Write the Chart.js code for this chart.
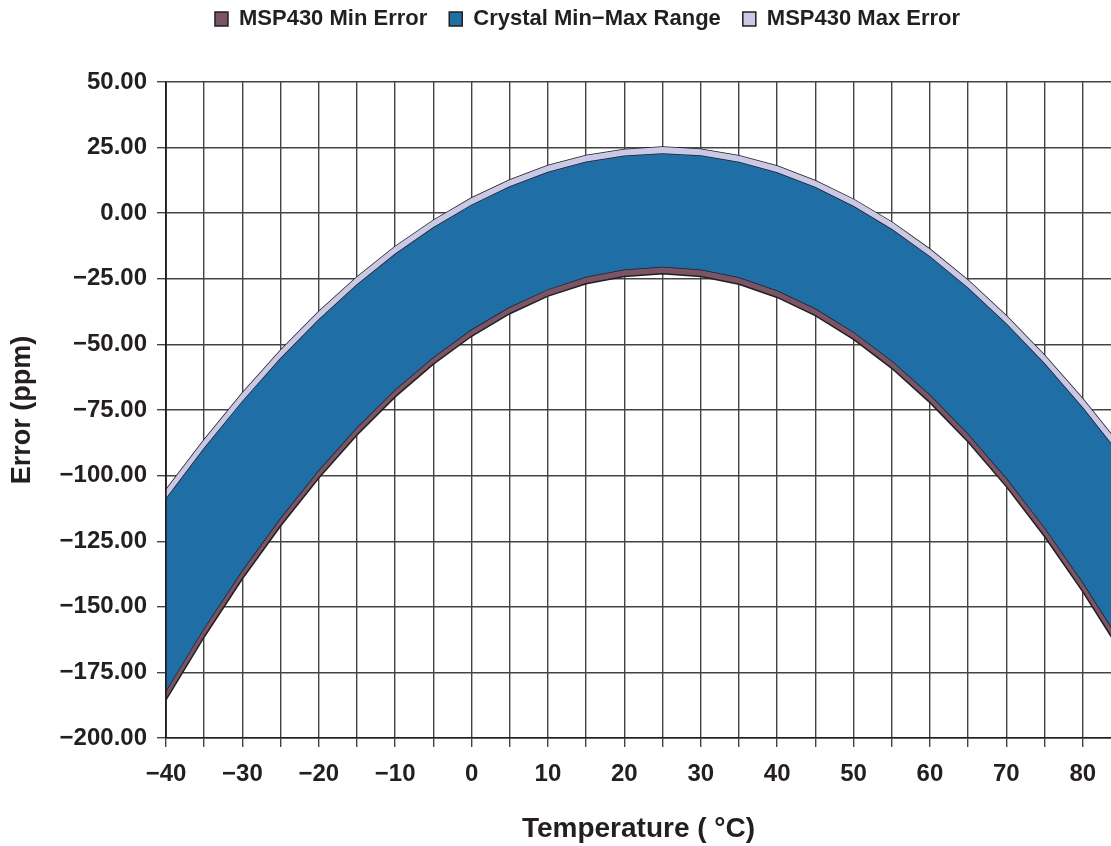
<!DOCTYPE html>
<html>
<head>
<meta charset="utf-8">
<script src="https://cdn.jsdelivr.net/npm/chart.js@4.4.1/dist/chart.umd.min.js"></script>
<style>
  body { margin: 0; background: #fff; }
  canvas { display: block; }
</style>
</head>
<body>
<canvas id="errChart" width="1111" height="846"></canvas>
<script>
const temps = [-40, -35, -30, -25, -20, -15, -10, -5, 0, 5, 10, 15, 20, 25, 30, 35, 40, 45, 50, 55, 60, 65, 70, 75, 80, 85];
const minErr = [-185.5, -161.5, -139.3, -119.2, -100.9, -84.5, -70, -57.5, -46.9, -38.3, -31.6, -26.9, -24.1, -23.1, -24.1, -27.1, -32.1, -39, -48.1, -59.1, -72.2, -87.2, -104.2, -123.2, -144.2, -167.2];
const crystalMin = [-182.5, -158.6, -136.5, -116.5, -98.3, -82, -67.6, -55.2, -44.6, -36, -29.3, -24.5, -21.7, -20.7, -21.7, -24.7, -29.7, -36.6, -45.6, -56.5, -69.5, -84.4, -101.3, -120.2, -141.1, -164];
const crystalMax = [-109, -89.8, -71.9, -55.5, -40.7, -27.4, -15.7, -5.6, 3, 10, 15.5, 19.4, 21.7, 22.6, 21.8, 19.3, 15.3, 9.7, 2.5, -6.3, -16.7, -28.7, -42.3, -57.5, -74.3, -92.7];
const maxErr = [-105.4, -86.3, -68.5, -52.2, -37.5, -24.3, -12.7, -2.7, 5.8, 12.7, 18.2, 22, 24.3, 25.2, 24.4, 21.9, 18, 12.4, 5.3, -3.4, -13.7, -25.6, -39.1, -54.1, -70.7, -88.9];
const seriesNames = ['MSP430 Min Error', 'Crystal Min\u2212Max Range', 'MSP430 Max Error'];

const ink = '#231f20';
const font = 'Liberation Sans';
const minus = s => String(s).replace('-', '\u2212');
const pts = arr => temps.map((t, i) => ({ x: t, y: arr[i] }));

// legend sits in a fixed 82px band, nudged to where the original puts it
const legendSpot = {
  id: 'legendSpot',
  beforeInit(chart) {
    const fit = chart.legend.fit;
    chart.legend.fit = function () {
      fit.call(this);
      this.height = 82;
    };
  },
  afterLayout(chart) {
    const lg = chart.legend;
    lg.top = -14;
    lg.bottom = 68;
    lg.left = 32;
    lg.right = chart.width + 32;
  }
};

// left axis line shows on top of the filled band
const leftAxis = {
  id: 'leftAxis',
  afterDatasetsDraw(chart) {
    const { ctx, chartArea } = chart;
    ctx.save();
    ctx.strokeStyle = ink;
    ctx.lineWidth = 1.5;
    ctx.beginPath();
    ctx.moveTo(chartArea.left, chartArea.top);
    ctx.lineTo(chartArea.left, chartArea.bottom);
    ctx.stroke();
    ctx.restore();
  }
};

const line = { borderColor: ink, borderWidth: 1.5, pointRadius: 0, tension: 0 };

new Chart(document.getElementById('errChart'), {
  type: 'line',
  data: {
    datasets: [
      { ...line, label: seriesNames[0], data: pts(minErr), fill: 1, backgroundColor: '#7b5468' },
      { ...line, label: seriesNames[1], data: pts(crystalMin), fill: 2, backgroundColor: '#206ea6' },
      { ...line, label: seriesNames[2], data: pts(crystalMax), fill: 3, backgroundColor: '#c9c8e6' },
      { ...line, label: '', data: pts(maxErr), fill: false, backgroundColor: '#c9c8e6' }
    ]
  },
  options: {
    responsive: false,
    animation: false,
    layout: { padding: 0 },
    plugins: {
      tooltip: { enabled: false },
      legend: {
        position: 'top',
        labels: {
          filter: item => item.datasetIndex < 3,
          boxWidth: 13,
          boxHeight: 14,
          padding: 22,
          color: ink,
          font: { family: font, size: 22, weight: 'bold' }
        }
      }
    },
    scales: {
      x: {
        type: 'linear',
        min: -40,
        max: 83.7,
        afterFit(s) { s.height = 108; },
        grid: { color: '#444', lineWidth: 1.4, tickLength: 9 },
        border: { color: ink, width: 1.5 },
        ticks: {
          stepSize: 5,
          includeBounds: false,
          autoSkip: false,
          maxRotation: 0,
          padding: 13,
          color: ink,
          font: { family: font, size: 24, weight: 'bold' },
          callback: v => (v % 10 === 0 ? minus(v) : '')
        },
        title: {
          display: true,
          text: 'Temperature ( \u00b0C)',
          color: ink,
          padding: { top: 4, bottom: 0 },
          font: { family: font, size: 28, weight: 'bold' }
        }
      },
      y: {
        min: -200,
        max: 50,
        afterFit(s) { s.width = 166; },
        grid: { color: '#444', lineWidth: 1.4, tickLength: 9 },
        border: { color: ink, width: 1.5 },
        ticks: {
          stepSize: 25,
          padding: 10,
          color: ink,
          font: { family: font, size: 24, weight: 'bold' },
          callback: v => minus(v.toFixed(2))
        },
        title: {
          display: true,
          text: 'Error (ppm)',
          color: ink,
          padding: { top: 6, bottom: 4 },
          font: { family: font, size: 27, weight: 'bold' }
        }
      }
    }
  },
  plugins: [legendSpot, leftAxis]
});
</script>
</body>
</html>
